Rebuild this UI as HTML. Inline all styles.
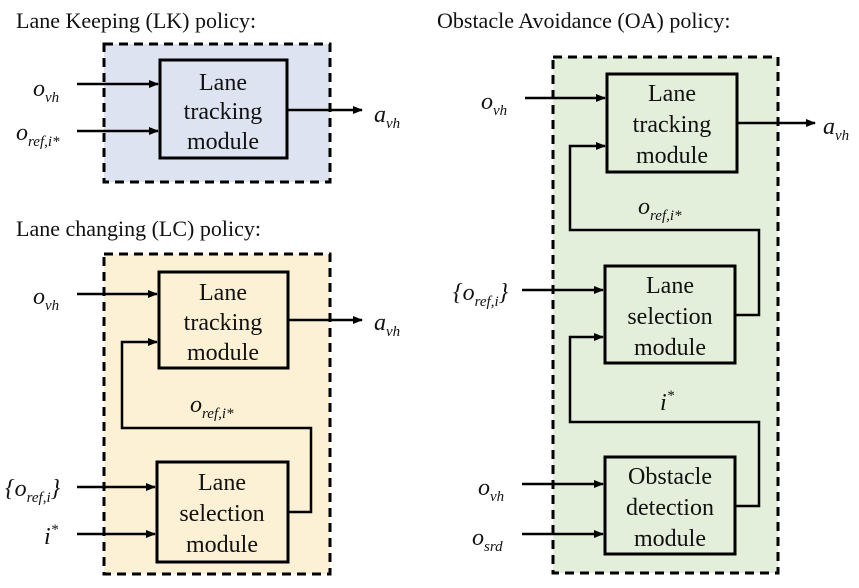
<!DOCTYPE html>
<html><head><meta charset="utf-8"><style>
body{margin:0;background:#fff}
svg text{font-family:"Liberation Serif","Times New Roman",serif;fill:#111}
.m{font-size:24px;text-anchor:middle}
.t{font-size:22px}
.v{font-style:italic;font-size:24px}
.s{font-style:italic;font-size:15px}
</style></head><body>
<svg width="859" height="583" viewBox="0 0 859 583" xmlns="http://www.w3.org/2000/svg">
<defs><marker id="a" markerWidth="10" markerHeight="8" refX="9" refY="4" orient="auto" markerUnits="userSpaceOnUse"><path d="M0,0 L10,4 L0,8 z" fill="#000"/></marker></defs>
<text class="t" x="16" y="28">Lane Keeping (LK) policy:</text>
<text class="t" x="16" y="236">Lane changing (LC) policy:</text>
<text class="t" x="437" y="28">Obstacle Avoidance (OA) policy:</text>
<g stroke="#000" stroke-width="3" stroke-dasharray="9,6">
<rect x="104" y="44" width="226" height="138" fill="#dde3f1"/>
<rect x="104" y="254" width="226" height="320" fill="#fcf0d5"/>
<rect x="553" y="57" width="225" height="516" fill="#e3eedb"/>
</g>
<g stroke="#000" stroke-width="3" fill="none">
<rect x="160" y="60" width="127" height="98"/>
<rect x="159" y="272" width="129" height="96"/>
<rect x="157" y="462" width="131" height="100"/>
<rect x="607" y="74" width="130" height="98"/>
<rect x="605" y="266" width="130" height="97"/>
<rect x="605" y="457" width="130" height="97"/>
<g stroke-width="2.5" marker-end="url(#a)">
<path d="M77,84H158"/><path d="M77,131H158"/><path d="M288,110H362"/>
<path d="M77,294H157"/><path d="M288,320H362"/><path d="M77,487H155"/><path d="M77,534H155"/>
<path d="M288,512H311V428H122V342H157"/>
<path d="M525,98H605"/><path d="M737,123H815"/><path d="M522,290H603"/><path d="M522,484H603"/><path d="M522,534H603"/>
<path d="M735,315H759V230H570V146H605"/>
<path d="M735,506H759V422H570V337H603"/>
</g>
</g>
<text class="m" x="223" y="90">Lane</text><text class="m" x="223" y="119">tracking</text><text class="m" x="223" y="149">module</text>
<text class="m" x="223" y="300">Lane</text><text class="m" x="223" y="330">tracking</text><text class="m" x="223" y="360">module</text>
<text class="m" x="222" y="490">Lane</text><text class="m" x="222" y="521">selection</text><text class="m" x="222" y="552">module</text>
<text class="m" x="672" y="101">Lane</text><text class="m" x="672" y="132">tracking</text><text class="m" x="672" y="163">module</text>
<text class="m" x="670" y="293">Lane</text><text class="m" x="670" y="324">selection</text><text class="m" x="670" y="355">module</text>
<text class="m" x="670" y="484">Obstacle</text><text class="m" x="670" y="515">detection</text><text class="m" x="670" y="546">module</text>
<text class="v" x="33" y="96">o<tspan class="s" dy="6">vh</tspan></text>
<text class="v" x="16" y="140">o<tspan class="s" dy="6">ref,i*</tspan></text>
<text class="v" x="374" y="122">a<tspan class="s" dy="6">vh</tspan></text>
<text class="v" x="33" y="304">o<tspan class="s" dy="6">vh</tspan></text>
<text class="v" x="374" y="330">a<tspan class="s" dy="6">vh</tspan></text>
<text class="v" x="190" y="412">o<tspan class="s" dy="6">ref,i*</tspan></text>
<text class="v" x="5" y="496">{o<tspan class="s" dy="6">ref,i</tspan><tspan dy="-6">}</tspan></text>
<text class="v" x="44" y="544">i<tspan class="s" dy="-10">*</tspan></text>
<text class="v" x="481" y="109">o<tspan class="s" dy="6">vh</tspan></text>
<text class="v" x="823" y="134">a<tspan class="s" dy="6">vh</tspan></text>
<text class="v" x="638" y="214">o<tspan class="s" dy="6">ref,i*</tspan></text>
<text class="v" x="453" y="300">{o<tspan class="s" dy="6">ref,i</tspan><tspan dy="-6">}</tspan></text>
<text class="v" x="660" y="410">i<tspan class="s" dy="-10">*</tspan></text>
<text class="v" x="478" y="495">o<tspan class="s" dy="6">vh</tspan></text>
<text class="v" x="472" y="545">o<tspan class="s" dy="6">srd</tspan></text>
</svg>
</body></html>
